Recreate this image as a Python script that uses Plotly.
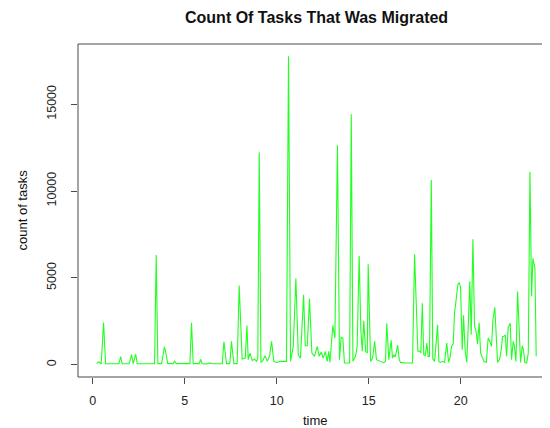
import plotly.graph_objects as go

# time (hours) and count of migrated tasks
time_h = [0.21, 0.33, 0.46, 0.59, 0.70, 1.00, 1.30, 1.42, 1.52, 1.60, 1.80, 1.98, 2.11, 2.20, 2.34, 2.42,
          2.80, 3.20, 3.36, 3.45, 3.54, 3.74, 3.83, 3.90, 3.97, 4.08, 4.37, 4.45, 4.54, 4.80, 5.10,
          5.28, 5.37, 5.46, 5.79, 5.86, 5.95, 6.20, 6.37, 6.50, 7.04, 7.13, 7.27, 7.45, 7.54, 7.67,
          7.85, 7.96, 8.12, 8.29, 8.38, 8.45, 8.54, 8.67, 8.79, 8.90, 8.97, 9.05, 9.14, 9.25, 9.37,
          9.48, 9.61, 9.72, 9.84, 9.97, 10.21, 10.42, 10.53, 10.64, 10.75, 10.90, 11.04, 11.17, 11.29,
          11.46, 11.55, 11.66, 11.78, 11.91, 12.05, 12.20, 12.31, 12.42, 12.53, 12.64, 12.74, 12.83,
          12.89, 13.05, 13.16, 13.30, 13.41, 13.50, 13.59, 13.68, 13.96, 14.05, 14.14, 14.28, 14.37,
          14.48, 14.57, 14.65, 14.73, 14.83, 14.92, 14.97, 15.10, 15.21, 15.32, 15.42, 15.55, 15.68,
          15.82, 15.91, 15.98, 16.09, 16.22, 16.29, 16.36, 16.44, 16.57, 16.66, 16.73, 17.00, 17.20,
          17.38, 17.49, 17.60, 17.67, 17.78, 17.83, 17.91, 17.99, 18.07, 18.16, 18.23, 18.30, 18.40,
          18.48, 18.58, 18.74, 18.81, 18.90, 19.01, 19.12, 19.24, 19.34, 19.41, 19.50, 19.59, 19.66,
          19.75, 19.84, 19.92, 19.99, 20.08, 20.15, 20.24, 20.33, 20.42, 20.49, 20.57, 20.66, 20.75,
          20.82, 20.91, 21.00, 21.08, 21.17, 21.26, 21.39, 21.49, 21.58, 21.67, 21.75, 21.85, 21.93,
          22.00, 22.11, 22.20, 22.27, 22.34, 22.42, 22.49, 22.58, 22.69, 22.76, 22.85, 22.92, 23.00,
          23.09, 23.18, 23.25, 23.34, 23.41, 23.48, 23.58, 23.67, 23.76, 23.85, 23.92, 24.03, 24.10]

tasks = [60, 170, 40, 2430, 57, 60, 50, 60, 460, 60, 50, 60, 575, 60, 600, 60,
         50, 60, 60, 6320, 60, 60, 700, 1030, 700, 60, 60, 200, 60, 50, 60,
         60, 2410, 60, 60, 310, 60, 40, 100, 50, 60, 1320, 60, 60, 1340, 60,
         60, 4560, 330, 380, 2260, 290, 670, 230, 330, 190, 330, 12220, 130, 250, 520,
         190, 480, 1340, 190, 130, 190, 190, 190, 17760, 190, 1050, 4980, 570, 380,
         4020, 1090, 1090, 3790, 670, 480, 1050, 480, 730, 380, 770, 190, 770,
         130, 2260, 1530, 12640, 290, 1570, 1530, 100, 100, 14430, 190, 480, 1050,
         6260, 2010, 770, 2530, 770, 670, 5790, 190, 380, 1340, 290, 230, 130,
         100, 190, 2390, 290, 1400, 380, 570, 440, 1120, 290, 130, 100, 100,
         100, 6360, 2010, 770, 770, 670, 3540, 570, 520, 1240, 480, 480, 10630,
         330, 190, 2300, 190, 130, 190, 130, 1240, 130, 380, 1050, 1200, 2970,
         3740, 4600, 4730, 4460, 860, 2850, 770, 130, 2590, 4800, 1720, 7220, 2200,
         2010, 1200, 2420, 670, 380, 190, 130, 1540, 1340, 1050, 2590, 3310, 1630,
         130, 290, 860, 1610, 1630, 1720, 480, 2160, 2390, 290, 1340, 1050, 190,
         4210, 1820, 130, 1090, 860, 130, 100, 670, 11110, 3930, 6130, 5560, 480]

x_ticks = [0, 5, 10, 15, 20]
y_ticks = [0, 5000, 10000, 15000]

title_text = "Count Of Tasks That Was Migrated"
x_label = "time"
y_label = "count of tasks"

# the page body has an 8px margin, so the figure is sized to fill the rest of the window
OFF = 8
W, H = 550 - OFF, 428 - OFF
L, R, T, B = 78 - OFF, 0, 44 - OFF, 51
pw, ph = W - L - R, H - T - B

font_family = "Liberation Sans, Arial, Helvetica, sans-serif"
axis_col = "#4a4a4a"

fig = go.Figure()
fig.add_trace(go.Scatter(x=time_h, y=tasks, mode="lines",
                         line=dict(color="#22ff22", width=1.1),
                         hoverinfo="x+y", showlegend=False))

fig.update_layout(
    width=W, height=H,
    margin=dict(l=L, r=R, t=T, b=B, pad=0, autoexpand=False),
    paper_bgcolor="white", plot_bgcolor="white",
    font=dict(family=font_family, color="#111111"),
    xaxis=dict(range=[-0.80, 24.85], tickvals=x_ticks, ticktext=[str(v) for v in x_ticks],
               showgrid=False, zeroline=False, showline=False, automargin=False,
               ticks="outside", ticklen=6, tickwidth=1, tickcolor=axis_col,
               tickfont=dict(size=12.5, color="#222222"), ticklabelstandoff=6),
    yaxis=dict(range=[-710, 18470], tickvals=y_ticks, ticktext=[str(v) for v in y_ticks],
               showgrid=False, zeroline=False, showline=False, automargin=False,
               ticks="outside", ticklen=6, tickwidth=1, tickcolor=axis_col,
               tickangle=-90, tickfont=dict(size=12.5, color="#222222"), ticklabelstandoff=10),
    shapes=[dict(type="rect", xref="paper", yref="paper", x0=0, x1=1.02, y0=0, y1=1,
                 line=dict(color=axis_col, width=1), fillcolor="rgba(0,0,0,0)", layer="above")],
    annotations=[
        dict(text="<b>" + title_text + "</b>", xref="paper", yref="paper", x=(316 - 78) / pw,
             y=1 + (44 - 18) / ph, xanchor="center", yanchor="middle", showarrow=False,
             font=dict(size=16, color="#111111", family=font_family)),
        dict(text=x_label, xref="paper", yref="paper", x=(315 - 78) / pw, y=-(421 - 377) / ph,
             xanchor="center", yanchor="middle", showarrow=False,
             font=dict(size=13, color="#111111", family=font_family)),
        dict(text=y_label, xref="paper", yref="paper", x=-(78 - 22) / pw, y=0.5,
             xanchor="center", yanchor="middle", textangle=-90, showarrow=False,
             font=dict(size=13, color="#111111", family=font_family)),
    ],
)

fig.write_html("out.html")
